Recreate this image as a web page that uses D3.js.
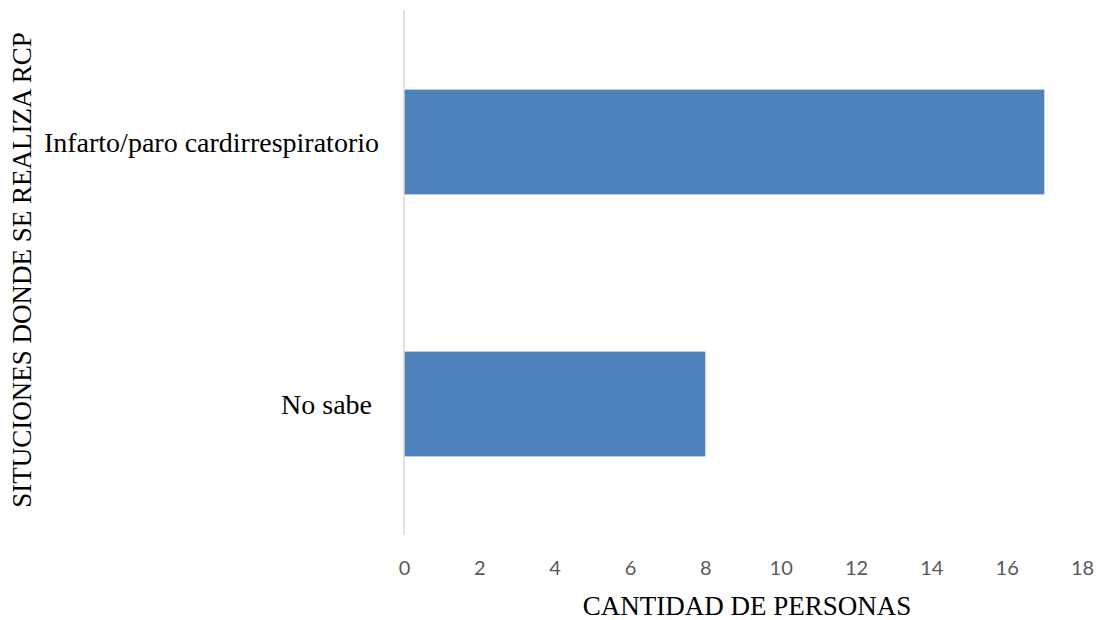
<!DOCTYPE html>
<html><head><meta charset="utf-8">
<script src="https://cdn.jsdelivr.net/npm/d3@7"></script>
<style>body{margin:0;background:#fff}svg{display:block}</style>
</head><body>
<svg id="c" width="1102" height="620"></svg>
<script>
const categories = ["Infarto/paro cardirrespiratorio", "No sabe "];
const values = [17, 8];
const xTicks = [0, 2, 4, 6, 8, 10, 12, 14, 16, 18];
const xTitle = "CANTIDAD DE PERSONAS";
const yTitle = "SITUCIONES DONDE SE REALIZA RCP";

const svg = d3.select("#c");
const m = {left: 404, right: 20, top: 11, bottom: 85};
const W = 1102, H = 620;
const x = d3.scaleLinear().domain([0, 18]).range([m.left, W - m.right]);
const y = d3.scaleBand().domain(categories).range([m.top, H - m.bottom]).paddingInner(0.6).paddingOuter(0.3);

svg.selectAll("rect.bar").data(categories).enter().append("rect")
  .attr("class", "bar")
  .attr("x", x(0))
  .attr("y", d => y(d))
  .attr("width", (d, i) => x(values[i]) - x(0))
  .attr("height", y.bandwidth())
  .attr("fill", "#4f81bd");

svg.append("line").attr("x1", x(0)).attr("x2", x(0)).attr("y1", 10).attr("y2", H - m.bottom)
  .attr("stroke", "#d9d9d9").attr("stroke-width", 1.5);

const xa = svg.append("g").attr("transform", `translate(0,${H - m.bottom})`)
  .call(d3.axisBottom(x).tickValues(xTicks).tickSize(0).tickPadding(26));
xa.select(".domain").remove();
xa.selectAll("text").style("font-family", "Lato, 'Open Sans', sans-serif").style("font-size", "20px").attr("fill", "#595959");

svg.selectAll("text.cat").data(categories).enter().append("text")
  .attr("class", "cat")
  .attr("x", 379)
  .attr("y", d => y(d) + y.bandwidth() / 2)
  .attr("dy", "0.35em")
  .attr("text-anchor", "end")
  .style("white-space", "pre")
  .style("font-family", "'Liberation Serif', 'Times New Roman', serif")
  .style("font-size", "28px")
  .attr("fill", "#000")
  .text(d => d);

svg.append("text").attr("x", 747).attr("y", 615).attr("text-anchor", "middle")
  .style("font-family", "'Liberation Serif', serif").style("font-size", "27px").text(xTitle);

svg.append("text").attr("transform", "translate(31,270) rotate(-90)").attr("text-anchor", "middle")
  .style("font-family", "'Liberation Serif', serif").style("font-size", "27px").text(yTitle);
</script>
</body></html>
